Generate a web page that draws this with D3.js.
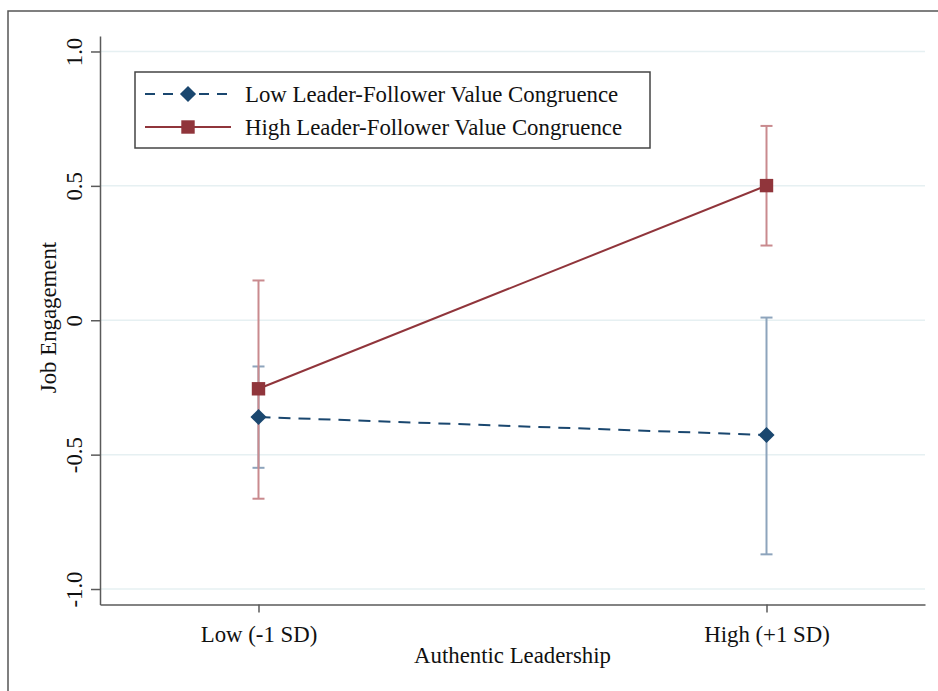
<!DOCTYPE html>
<html>
<head>
<meta charset="utf-8">
<script src="https://cdn.jsdelivr.net/npm/d3@7"></script>
<style>
  body { margin: 0; background: #fff; }
  svg text { font-family: "Liberation Serif", "Times New Roman", serif; fill: #111; }
</style>
</head>
<body>
<div id="chart"></div>
<script>
// data
var categories = ["Low (-1 SD)", "High (+1 SD)"];
var lowCongMean = [-0.360, -0.427];
var lowCongLower = [-0.549, -0.871];
var lowCongUpper = [-0.172, 0.010];
var highCongMean = [-0.255, 0.501];
var highCongLower = [-0.664, 0.278];
var highCongUpper = [0.148, 0.723];
var yTicks = [-1, -0.5, 0, 0.5, 1];
var yTickLabels = ["-1.0", "-0.5", "0", "0.5", "1.0"];
var seriesNames = ["Low Leader-Follower Value Congruence", "High Leader-Follower Value Congruence"];

var W = 938, H = 691;
var navy = "#1a476f", maroon = "#90353b";
var navyLight = "#8da4bc", maroonLight = "#c98a8e";
var fs = "22.8px";

var svg = d3.select("#chart").append("svg").attr("width", W).attr("height", H);

// outer frame (only left and top show inside the picture)
svg.append("path").attr("d", "M8," + H + "V11H" + W)
  .attr("fill", "none").attr("stroke", "#555").attr("stroke-width", 1.5);

var xScale = d3.scalePoint().domain(categories).range([100, 925]).padding(0.312);
var yScale = d3.scaleLinear().domain([-1.0576, 1.0576]).range([604.5, 36]);

// grid
svg.append("g").selectAll("line").data(yTicks).join("line")
  .attr("x1", 100).attr("x2", 925)
  .attr("y1", d => yScale(d)).attr("y2", d => yScale(d))
  .attr("stroke", "#e6f0f2").attr("stroke-width", 1.5);

// y axis
var yAxisG = svg.append("g").attr("transform", "translate(100,0)")
  .call(d3.axisLeft(yScale).tickValues(yTicks).tickSize(9).tickSizeOuter(0)
    .tickFormat((d, i) => yTickLabels[i]));
yAxisG.selectAll("text").attr("x", 0).attr("dy", 0)
  .attr("transform", "translate(-18,0) rotate(-90)")
  .attr("text-anchor", "middle").style("font-size", fs);

// x axis
var xAxisG = svg.append("g").attr("transform", "translate(0,604.5)")
  .call(d3.axisBottom(xScale).tickSize(8).tickSizeOuter(0));
xAxisG.selectAll("text").attr("y", 37).attr("dy", 0).style("font-size", fs);

svg.selectAll(".domain, .tick line").attr("stroke", "#5a5a5a").attr("stroke-width", 1.5);

// axis titles
svg.append("text").attr("transform", "translate(56,317.5) rotate(-90)")
  .attr("text-anchor", "middle").style("font-size", fs).text("Job Engagement");
svg.append("text").attr("x", 512.5).attr("y", 663)
  .attr("text-anchor", "middle").style("font-size", fs).text("Authentic Leadership");

function errorBars(lower, upper, color) {
  var g = svg.append("g").attr("stroke", color).attr("stroke-width", 2);
  categories.forEach(function (c, i) {
    var x = xScale(c);
    g.append("line").attr("x1", x).attr("x2", x)
      .attr("y1", yScale(lower[i])).attr("y2", yScale(upper[i]));
    [lower[i], upper[i]].forEach(function (v) {
      g.append("line").attr("x1", x - 6).attr("x2", x + 6)
        .attr("y1", yScale(v)).attr("y2", yScale(v));
    });
  });
}
errorBars(lowCongLower, lowCongUpper, navyLight);
errorBars(highCongLower, highCongUpper, maroonLight);

var line = d3.line().x((d, i) => xScale(categories[i])).y(d => yScale(d));

svg.append("path").datum(lowCongMean).attr("d", line)
  .attr("fill", "none").attr("stroke", navy).attr("stroke-width", 2).attr("stroke-dasharray", "12,8");
svg.append("path").datum(highCongMean).attr("d", line)
  .attr("fill", "none").attr("stroke", maroon).attr("stroke-width", 2);

var diamond = d3.symbol().type(d3.symbolSquare).size(130);
var square = d3.symbol().type(d3.symbolSquare).size(180);

svg.append("g").selectAll("path").data(lowCongMean).join("path")
  .attr("d", diamond)
  .attr("transform", (d, i) => "translate(" + xScale(categories[i]) + "," + yScale(d) + ") rotate(45)")
  .attr("fill", navy);
svg.append("g").selectAll("path").data(highCongMean).join("path")
  .attr("d", square)
  .attr("transform", (d, i) => "translate(" + xScale(categories[i]) + "," + yScale(d) + ")")
  .attr("fill", maroon);

// legend
var legend = svg.append("g");
legend.append("rect").attr("x", 135).attr("y", 72).attr("width", 515).attr("height", 76)
  .attr("fill", "#fff").attr("stroke", "#444").attr("stroke-width", 1.5);
var rows = [
  { name: seriesNames[0], color: navy, dash: "10,8", sym: diamond, rot: 45, y: 94 },
  { name: seriesNames[1], color: maroon, dash: null, sym: square, rot: 0, y: 127 }
];
rows.forEach(function (r) {
  legend.append("line").attr("x1", 145).attr("x2", 231).attr("y1", r.y).attr("y2", r.y)
    .attr("stroke", r.color).attr("stroke-width", 2).attr("stroke-dasharray", r.dash);
  legend.append("path").attr("d", r.sym)
    .attr("transform", "translate(188," + r.y + ") rotate(" + r.rot + ")").attr("fill", r.color);
  legend.append("text").attr("x", 245).attr("y", r.y).attr("dy", "0.35em")
    .style("font-size", fs).text(r.name);
});
</script>
</body>
</html>
